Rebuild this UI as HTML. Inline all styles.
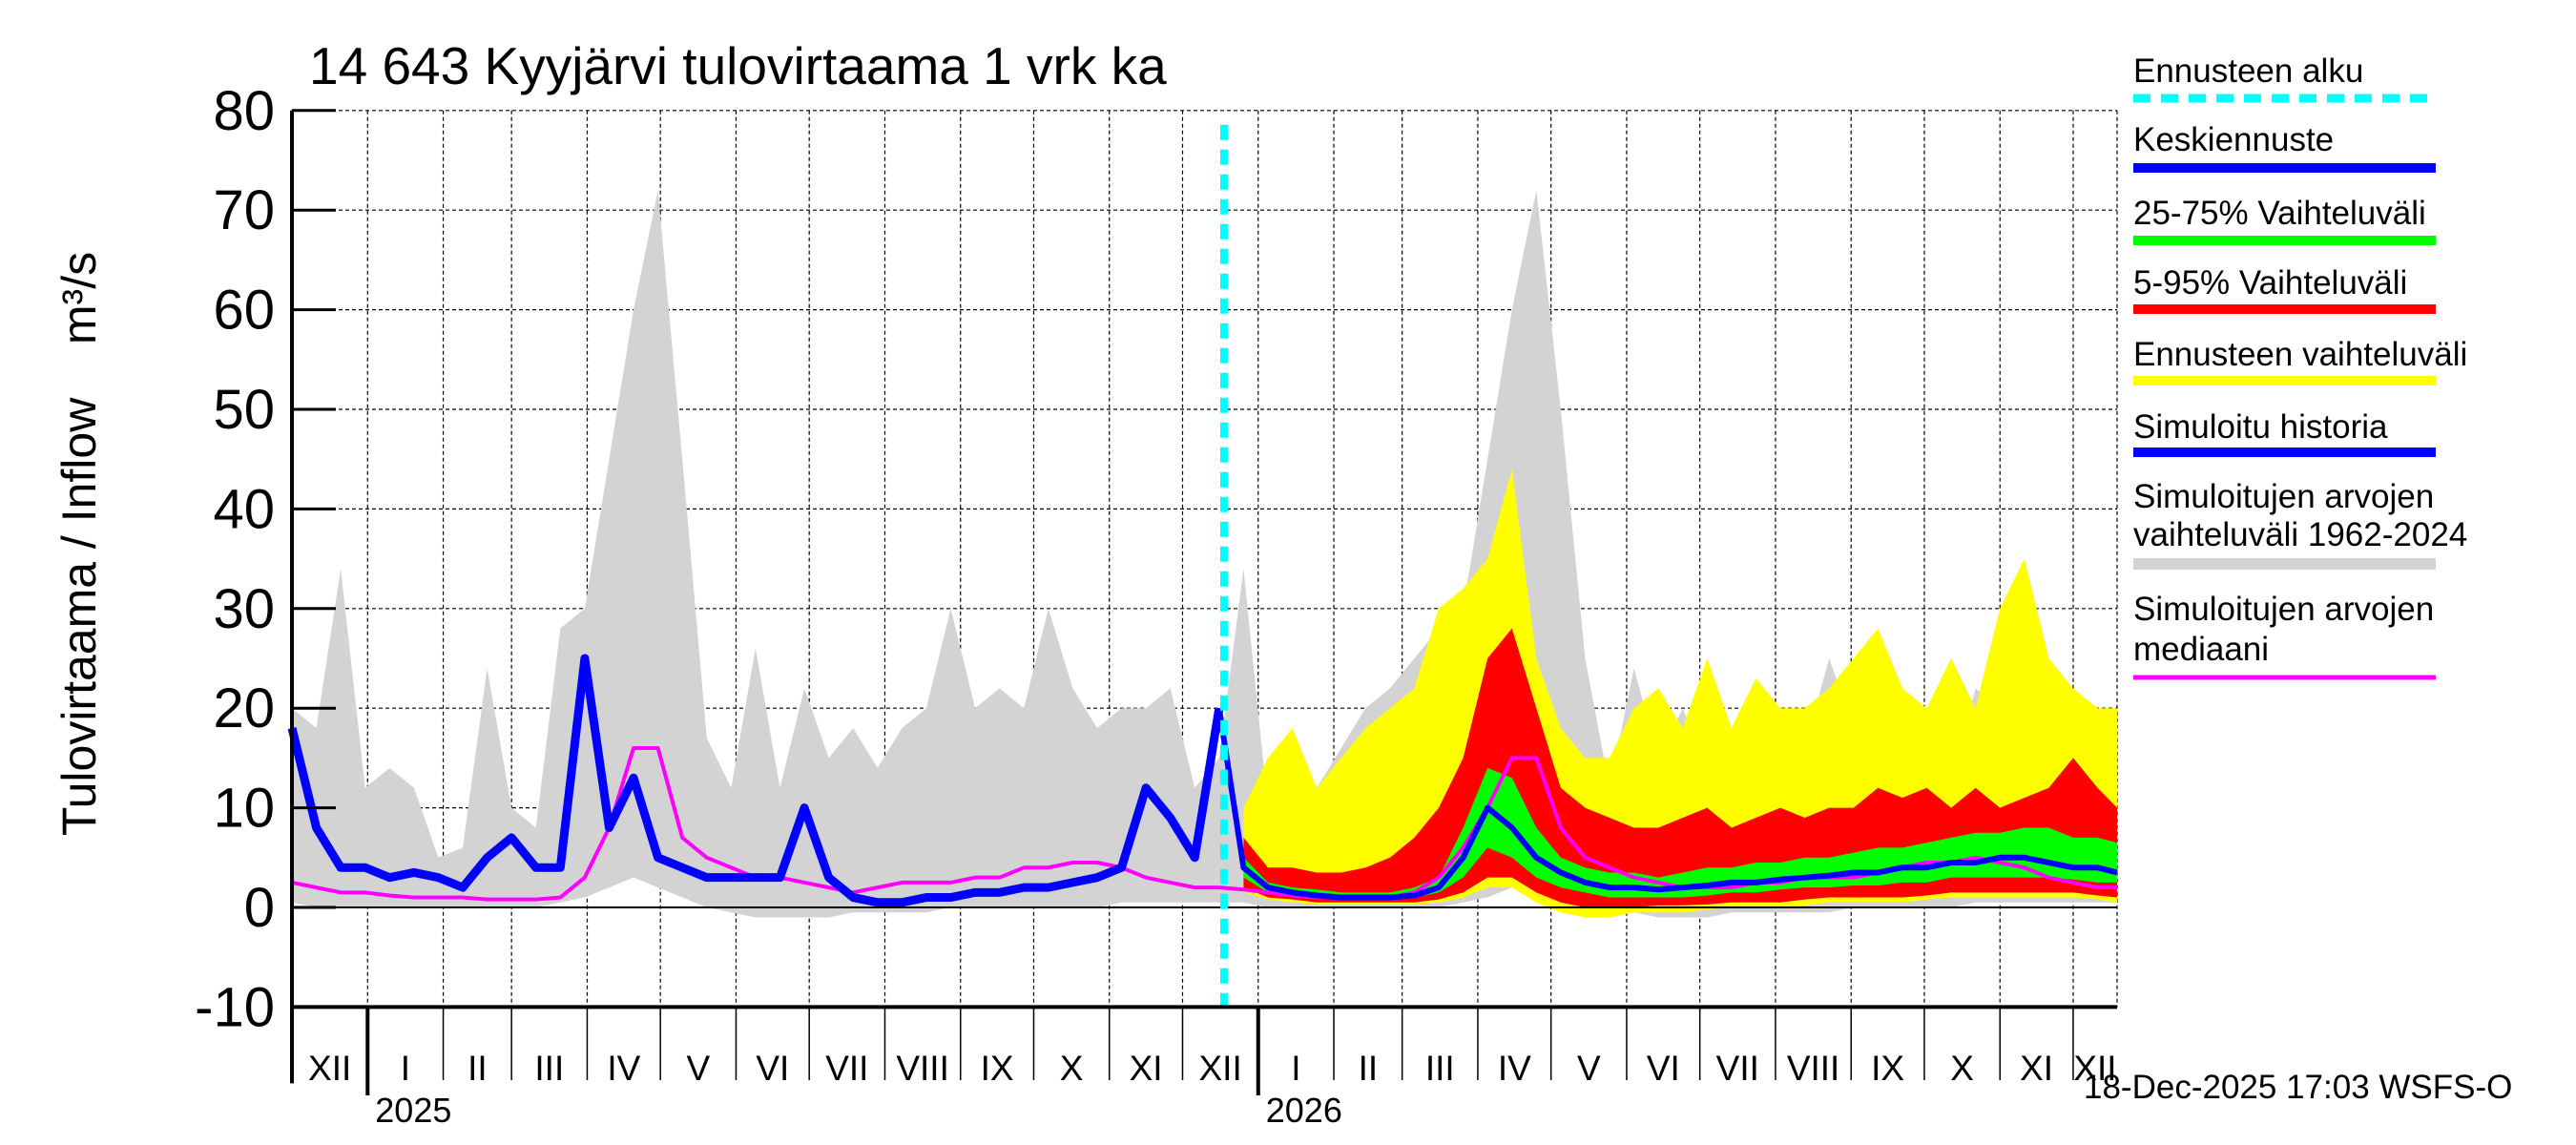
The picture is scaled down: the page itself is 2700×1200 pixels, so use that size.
<!DOCTYPE html>
<html><head><meta charset="utf-8"><style>
html,body{margin:0;padding:0;background:#fff;}
svg{display:block;font-family:"Liberation Sans",sans-serif;}
</style></head><body>
<svg id="chart" width="2700" height="1200" viewBox="0 0 2700 1200" xmlns="http://www.w3.org/2000/svg">
<text x="324" y="88" font-size="55">14 643 Kyyjärvi tulovirtaama 1 vrk ka</text>
<text transform="translate(100,570) rotate(-90)" text-anchor="middle" font-size="50" xml:space="preserve">Tulovirtaama / Inflow    m³/s</text>
<g id="grid"></g>
<g id="bands"></g>
<g id="lines"></g>
<g id="axes"></g>
<g id="legend">
 <text x="2236" y="86" font-size="35">Ennusteen alku</text>
 <line x1="2236" y1="103" x2="2553" y2="103" stroke="#00ffff" stroke-width="9" stroke-dasharray="18,11"/>
 <text x="2236" y="158" font-size="35">Keskiennuste</text>
 <line x1="2236" y1="176" x2="2553" y2="176" stroke="#0000ff" stroke-width="10"/>
 <text x="2236" y="235" font-size="35">25-75% Vaihteluväli</text>
 <line x1="2236" y1="252" x2="2553" y2="252" stroke="#00ff00" stroke-width="10"/>
 <text x="2236" y="308" font-size="35">5-95% Vaihteluväli</text>
 <line x1="2236" y1="324" x2="2553" y2="324" stroke="#ff0000" stroke-width="10"/>
 <text x="2236" y="383" font-size="35">Ennusteen vaihteluväli</text>
 <line x1="2236" y1="399" x2="2553" y2="399" stroke="#ffff00" stroke-width="10"/>
 <text x="2236" y="459" font-size="35">Simuloitu historia</text>
 <line x1="2236" y1="474" x2="2553" y2="474" stroke="#0000ff" stroke-width="10"/>
 <text x="2236" y="532" font-size="35">Simuloitujen arvojen</text>
 <text x="2236" y="572" font-size="35">vaihteluväli 1962-2024</text>
 <line x1="2236" y1="591" x2="2553" y2="591" stroke="#d3d3d3" stroke-width="12"/>
 <text x="2236" y="650" font-size="35">Simuloitujen arvojen</text>
 <text x="2236" y="692" font-size="35">mediaani</text>
 <line x1="2236" y1="710" x2="2553" y2="710" stroke="#ff00ff" stroke-width="5"/>
</g>
<text x="2184" y="1151" font-size="35">18-Dec-2025 17:03 WSFS-O</text>
</svg>
<script>
// data: values every 10 days starting 1-Dec-2024
const stepDays = 10;
const histMax = [20,18,34,12,14,12,5,6,24,10,8,28,30,45,60,72,45,17,12,26,12,22,15,18,14,18,20,30,20,22,20,30,22,18,20,20,22,12,15,34,10,14,12,16,20,22,25,28,30,45,60,72,50,25,12,24,15,20,14,18,18,20,16,25,18,22,20,17,13,22,20,25,20,18,15,15];
const histMin = [0.5,0,0,0,0,0,0,0,0,0,0,0.5,1,2,3,2,1,0,-0.5,-1,-1,-1,-1,-0.5,-0.5,-0.5,-0.5,0,0,0,0,0,0,0,0.5,0.5,0.5,0.5,0.5,0.5,0,0,0,0,0,0,0,0,0.5,1,2,3,2,1,0,-0.5,-1,-1,-1,-0.5,-0.5,-0.5,-0.5,-0.5,0,0,0,0,0,0.5,0.5,0.5,0.5,0.5,0.5,0.5];
const simHistory = [18,8,4,4,3,3.5,3,2,5,7,4,4,25,8,13,5,4,3,3,3,3,10,3,1,0.5,0.5,1,1,1.5,1.5,2,2,2.5,3,4,12,9,5,20];
const median = [2.5,2,1.5,1.5,1.2,1,1,1,0.8,0.8,0.8,1,3,8,16,16,7,5,4,3,3,2.5,2,1.5,2,2.5,2.5,2.5,3,3,4,4,4.5,4.5,4,3,2.5,2,2,1.8,1.5,1.2,1,1,1,1,1.5,3,6,10,15,15,8,5,4,3,2.5,2,2,2,2.5,2.5,3,3,3,3.5,4,4.5,4.5,5,4.5,4,3,2.5,2,2];
// forecast, starting at index 39
const fcStartIndex = 39;
const fcMean = [4,2,1.5,1.2,1,1,1,1.2,2,5,10,8,5,3.5,2.5,2,2,1.8,2,2.2,2.5,2.5,2.8,3,3.2,3.5,3.5,4,4,4.5,4.5,5,5,4.5,4,4,3.5];
const fcP25 = [3,1.5,1.2,1,0.8,0.8,0.8,1,1.5,3,6,5,3,2,1.5,1,1,1,1,1.2,1.5,1.5,1.8,2,2,2.2,2.2,2.5,2.5,3,3,3,3,3,2.8,2.5,2.5];
const fcP75 = [5,2.5,2,1.8,1.5,1.5,1.5,2,3,8,14,13,8,5,4,3.5,3.5,3,3.5,4,4,4.5,4.5,5,5,5.5,6,6,6.5,7,7.5,7.5,8,8,7,7,6.5];
const fcP5 = [2,1,0.8,0.5,0.5,0.5,0.5,0.5,0.8,1.5,3,3,1.5,0.5,0,0,0,0.2,0.2,0.3,0.5,0.5,0.5,0.8,1,1,1,1,1.2,1.5,1.5,1.5,1.5,1.5,1.5,1.2,1];
const fcP95 = [7,4,4,3.5,3.5,4,5,7,10,15,25,28,20,12,10,9,8,8,9,10,8,9,10,9,10,10,12,11,12,10,12,10,11,12,15,12,10];
const fcMin = [1.5,0.8,0.5,0.3,0.3,0.3,0.3,0.3,0.5,1,2,2,0.5,-0.5,-1,-1,-0.5,-0.5,-0.5,-0.2,0,0,0,0.2,0.5,0.5,0.5,0.5,0.8,1,1,1,1,1,1,0.8,0.5];
const fcMax = [10,15,18,12,15,18,20,22,30,32,35,44,25,18,15,15,20,22,18,25,18,23,20,20,22,25,28,22,20,25,20,30,35,25,22,20,20];
const yTicks = [-10,0,10,20,30,40,50,60,70,80];
const monthLabels = ["XII","I","II","III","IV","V","VI","VII","VIII","IX","X","XI","XII","I","II","III","IV","V","VI","VII","VIII","IX","X","XI","XII"];
const monthDays = [31,31,28,31,30,31,30,31,31,30,31,30,31,31,28,31,30,31,30,31,31,30,31,30,31];
const yearLabels = ["2025","2026"];
const forecastStartDay = 382;
const totalDays = 748;

const X0=306, X1=2219, Y0=951, YU=10.44;
const xs = d => X0 + d*(X1-X0)/totalDays;
const ys = v => Y0 - v*YU;
const NS="http://www.w3.org/2000/svg";
function mk(tag, attrs, parent){const e=document.createElementNS(NS,tag);for(const k in attrs)e.setAttribute(k,attrs[k]);parent.appendChild(e);return e;}
const grid=document.getElementById('grid'), bands=document.getElementById('bands'), lines=document.getElementById('lines'), axes=document.getElementById('axes');
const clip = d => Math.min(d,totalDays);

yTicks.forEach(t=>{
  if(t===-10) return;
  const g=mk('line',{x1:X0,x2:X1,y1:ys(t),y2:ys(t),stroke:'#000','stroke-width':1.2,'stroke-dasharray':'4,3'},grid);
  
  
});
let acc=0;
const boundaries=[0];
monthDays.forEach(m=>{acc+=m;boundaries.push(acc);});
boundaries.forEach(b=>{ if(b>0 && b<=totalDays){
  const g=mk('line',{x1:xs(b),x2:xs(b),y1:ys(80),y2:ys(-10),stroke:'#000','stroke-width':1.2,'stroke-dasharray':'4,3'},grid);
  
  
}});
mk('line',{x1:X1,x2:X1,y1:ys(80),y2:ys(-10),stroke:'#000','stroke-width':1.2,'stroke-dasharray':'4,3'},grid);

function bandPath(lo,hi,startIdx,fill,name){
  const n=Math.min(lo.length,hi.length);
  let pts=[];
  for(let i=0;i<n;i++) pts.push(xs(clip((startIdx+i)*stepDays))+','+ys(hi[i]));
  for(let i=n-1;i>=0;i--) pts.push(xs(clip((startIdx+i)*stepDays))+','+ys(lo[i]));
  const p=mk('polygon',{points:pts.join(' '),fill:fill},bands);
  
  
}
function linePath(vals,startIdx,color,w,name,firstDay){
  let pts=[];
  if(firstDay!==undefined) pts.push(xs(firstDay[0])+','+ys(firstDay[1]));
  vals.forEach((v,i)=>pts.push(xs(clip((startIdx+i)*stepDays))+','+ys(v)));
  const p=mk('polyline',{points:pts.join(' '),fill:'none',stroke:color,'stroke-width':w,'stroke-linejoin':'round'},lines);
  
  
}
bandPath(histMin,histMax,0,'#d3d3d3','history-range-band');
bandPath(fcMin,fcMax,fcStartIndex,'#ffff00','forecast-range-band');
bandPath(fcP5,fcP95,fcStartIndex,'#ff0000','band-5-95');
bandPath(fcP25,fcP75,fcStartIndex,'#00ff00','band-25-75');
linePath(median,0,'#ff00ff',4,'median-line');
linePath(simHistory,0,'#0000ff',9,'simulated-history-line');
linePath(fcMean,fcStartIndex,'#0000ff',6,'mean-forecast-line',[(simHistory.length-1)*stepDays,simHistory[simHistory.length-1]]);

mk('line',{x1:X0,x2:X1,y1:ys(0),y2:ys(0),stroke:'#000','stroke-width':2},axes);
const fs=mk('line',{x1:xs(forecastStartDay),x2:xs(forecastStartDay),y1:ys(80)+15,y2:ys(-10),stroke:'#00ffff','stroke-width':8,'stroke-dasharray':'16,10'},axes);


mk('line',{x1:X0,x2:X0,y1:ys(80),y2:ys(-10)+80,stroke:'#000','stroke-width':4},axes);
mk('line',{x1:X0,x2:X1,y1:ys(-10),y2:ys(-10),stroke:'#000','stroke-width':4},axes);
yTicks.forEach(t=>{
  mk('line',{x1:X0,x2:X0+46,y1:ys(t),y2:ys(t),stroke:'#000','stroke-width':3},axes);
  const tx=mk('text',{x:288,y:ys(t)+20,'text-anchor':'end','font-size':58},axes);
  tx.textContent=t;
  
  
});
for(let m=0;m<monthLabels.length;m++){
  const a=boundaries[m], b=Math.min(boundaries[m+1],totalDays);
  if(a>=totalDays) break;
  const isYear=(m===1||m===13);
  mk('line',{x1:xs(a),x2:xs(a),y1:ys(-10),y2:isYear?1148:1132,stroke:'#000','stroke-width':isYear?4:1.5},axes);
  const tx=mk('text',{x:(xs(a)+xs(b))/2,y:1132,'text-anchor':'middle','font-size':37},axes);
  tx.textContent=monthLabels[m];
  
  
}
yearLabels.forEach((y,i)=>{
  const b=boundaries[i===0?1:13];
  const tx=mk('text',{x:xs(b)+8,y:1176,'font-size':36},axes);
  tx.textContent=y;
  
  
});
</script>
</body></html>
